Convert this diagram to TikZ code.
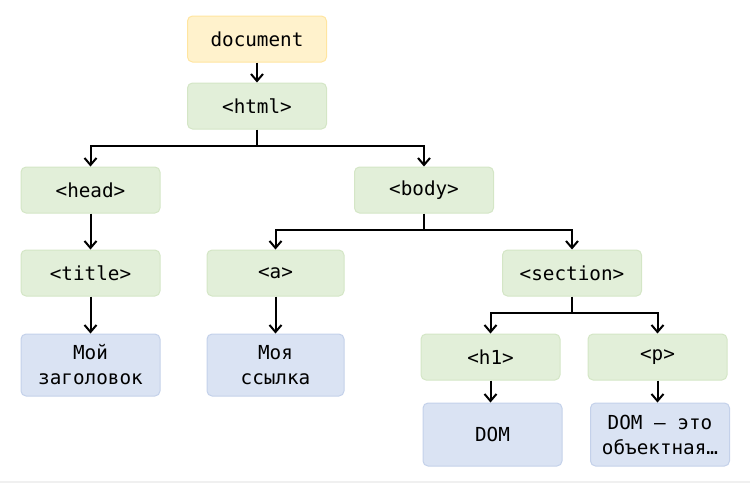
\documentclass[tikz,border=0pt]{standalone}
\usepackage{fontspec}
\setmonofont{DejaVu Sans Mono}
\usetikzlibrary{arrows.meta}
\definecolor{gfill}{RGB}{226,239,217}
\definecolor{gdraw}{RGB}{212,230,198}
\definecolor{bfill}{RGB}{218,227,243}
\definecolor{bdraw}{RGB}{196,209,234}
\definecolor{yfill}{RGB}{255,242,204}
\definecolor{ydraw}{RGB}{255,229,160}
\tikzset{
  box/.style={rounded corners=5pt, line width=1pt, minimum width=139pt, minimum height=46pt,
    inner sep=0pt, align=center, font=\ttfamily\fontsize{19.3}{25}\selectfont, text=black},
  greenbox/.style={box, fill=gfill, draw=gdraw},
  bluebox/.style={box, fill=bfill, draw=bdraw, minimum height=62pt},
  yellowbox/.style={box, fill=yfill, draw=ydraw},
  conn/.style={line width=2pt, black},
  arr/.style={conn, -{Straight Barb[length=7pt,width=12pt,line width=2pt]}}
}
\begin{document}
\begin{tikzpicture}[x=1pt,y=-1pt]
\useasboundingbox (0,0) rectangle (750,483);
\fill[black!6] (0,480.5) rectangle (750,483);
\node[yellowbox] (doc) at (257,39) {document};
\node[greenbox] (html) at (257,106) {<html>};
\node[greenbox] (head) at (90.5,190) {<head>};
\node[greenbox] (body) at (424,190) {<body>};
\node[greenbox] (title) at (90.5,273) {<title>};
\node[greenbox, minimum width=137pt] (a) at (275.5,273) {<a>};
\node[greenbox] (section) at (572,273) {<section>};
\node[bluebox] (t1) at (90.5,365) {Мой\\заголовок};
\node[bluebox, minimum width=137pt] (t2) at (275.5,365) {Моя\\ссылка};
\node[greenbox] (h1) at (490.5,357) {<h1>};
\node[greenbox] (p) at (657.5,357) {<p>};
\node[bluebox, minimum height=63pt] (t3) at (492.5,434.5) {DOM};
\node[bluebox, minimum height=63pt] (t4) at (660,434.5) {DOM – это\\объектная…};
\coordinate (j1) at (257,146);
\coordinate (j2) at (424,230);
\coordinate (j3) at (572,313);
\draw[arr] (doc) -- (html);
\draw[conn] (html) -- (j1);
\draw[arr] (j1) -| (head);
\draw[arr] (j1) -| (body);
\draw[conn] (body) -- (j2);
\draw[arr] (j2) -| (a);
\draw[arr] (j2) -| (section);
\draw[conn] (section) -- (j3);
\draw[arr] (j3) -| (h1);
\draw[arr] (j3) -| (p);
\draw[arr] (head) -- (title);
\draw[arr] (title) -- (t1);
\draw[arr] (a) -- (t2);
\draw[arr] (h1.south) -- (h1.south |- t3.north);
\draw[arr] (p.south) -- (p.south |- t4.north);
\end{tikzpicture}
\end{document}
